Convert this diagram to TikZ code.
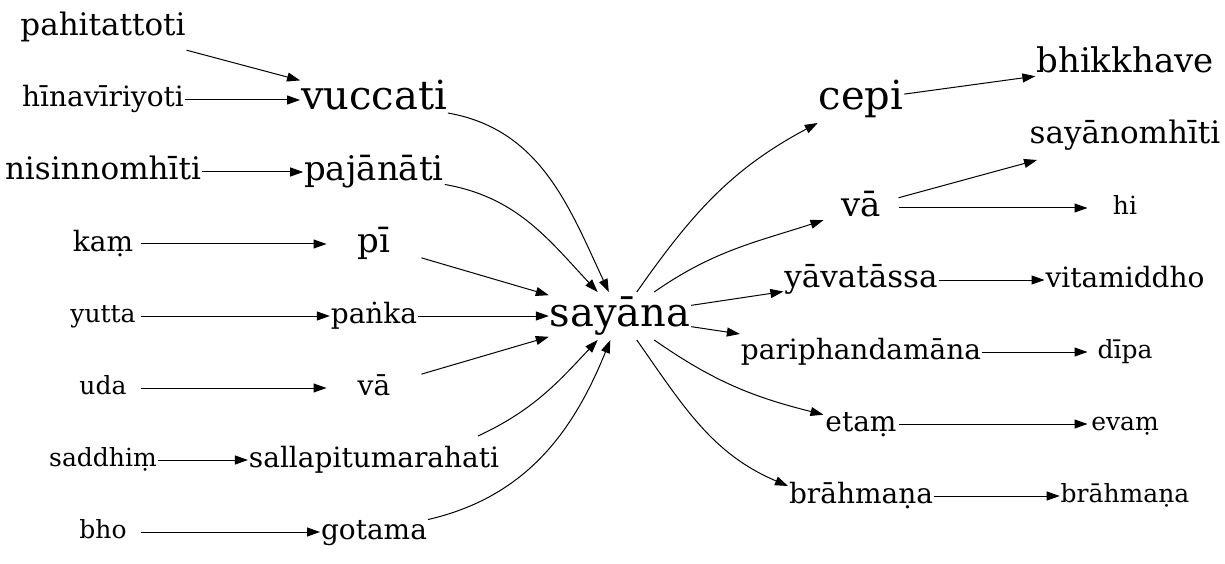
\documentclass[tikz,border=0pt]{standalone}
\usepackage{fontspec}
\IfFontExistsTF{DejaVuSerif.ttf}
  {\newfontfamily\pali{DejaVuSerif.ttf}}
  {\newfontfamily\pali{DejaVu Serif}}
\usepackage{tikz}
\usetikzlibrary{positioning,arrows.meta}

\begin{document}
\begin{tikzpicture}[x=1pt,y=1pt,node distance=72pt,
  >={Triangle[length=13pt,width=9pt]},
  line width=1pt,
  word/.style={minimum width=74pt,minimum height=47pt,inner xsep=0.5pt,inner ysep=0pt},
  fa/.style={word,font=\pali\fontsize{40}{48}\selectfont,text height=30pt,text depth=10pt},
  fb/.style={word,font=\pali\fontsize{34}{41}\selectfont,text height=25.5pt,text depth=8.5pt},
  fc/.style={word,font=\pali\fontsize{31}{37}\selectfont,text height=23.3pt,text depth=7.8pt},
  fd/.style={word,font=\pali\fontsize{28}{34}\selectfont,text height=21pt,text depth=7pt},
  fe/.style={word,font=\pali\fontsize{25}{30}\selectfont,text height=18.8pt,text depth=6.3pt}]
  \useasboundingbox (0,0) rectangle (1225,563);

  % centre
  \node[fa] (sayana) at (620,247) {sayāna};

  % middle column
  \node[fd] (panka) [left of=sayana,node distance=246pt] {paṅka};
  \node[fb,minimum width=94pt] (pi) [above of=panka] {pī};
  \node[fb] (pajanati) [above of=pi] {pajānāti};
  \node[fa] (vuccati) [above of=pajanati] {vuccati};
  \node[fd,minimum width=94pt] (vaL) [below of=panka] {vā};
  \node[fd] (sallapitum) [below of=vaL] {sallapitumarahati};
  \node[fd] (gotama) [below of=sallapitum] {gotama};

  % left column
  \node[fe] (yutta) [left of=panka,node distance=271pt] {yutta};
  \node[fd] (kam) [above of=yutta] {kaṃ};
  \node[fc] (nisinno) [above of=kam] {nisinnomhīti};
  \node[fd] (hina) [above of=nisinno] {hīnavīriyoti};
  \node[fc] (pahit) [above of=hina] {pahitattoti};
  \node[fe] (uda) [below of=yutta] {uda};
  \node[fe] (saddhim) [below of=uda] {saddhiṃ};
  \node[fe] (bho) [below of=saddhim] {bho};

  % right column
  \node[fc] (yavatassa) [right of=sayana,node distance=241pt,yshift=36pt] {yāvatāssa};
  \node[fb] (vaR) [above of=yavatassa] {vā};
  \node[fa] (cepi) [above of=vaR,node distance=108pt] {cepi};
  \node[fd] (pariphanda) [below of=yavatassa] {pariphandamāna};
  \node[fd] (etam) [below of=pariphanda] {etaṃ};
  \node[fd] (brahmanaA) [below of=etam] {brāhmaṇa};

  % far right column
  \node[fd] (vitamiddho) [right of=yavatassa,node distance=264pt] {vitamiddho};
  \node[fe] (hi) [above of=vitamiddho] {hi};
  \node[fc] (sayanomhiti) [above of=hi] {sayānomhīti};
  \node[fb] (bhikkhave) [above of=sayanomhiti] {bhikkhave};
  \node[fe] (dipa) [below of=vitamiddho] {dīpa};
  \node[fe] (evam) [below of=dipa] {evaṃ};
  \node[fe] (brahmanaB) [below of=evam] {brāhmaṇa};

  \path[->]
   (pahit) edge (vuccati)
   (hina) edge (vuccati)
   (nisinno) edge (pajanati)
   (kam) edge (pi)
   (yutta) edge (panka)
   (uda) edge (vaL)
   (saddhim) edge (sallapitum)
   (bho) edge (gotama)
   (vuccati) edge[out=-10,in=115] (sayana)
   (pajanati) edge[out=-10,in=133] (sayana)
   (pi) edge (sayana)
   (panka) edge (sayana)
   (vaL) edge (sayana)
   ([xshift=-22pt]sallapitum.north east) edge[out=25,in=-133] (sayana)
   (gotama) edge[out=13,in=-112] (sayana)
   (sayana) edge[out=55,in=208] (cepi)
   (sayana) edge[out=35,in=198] (vaR)
   (sayana) edge (yavatassa)
   (sayana) edge (pariphanda)
   (sayana) edge[out=-35,in=166] (etam)
   (sayana) edge[out=-55,in=157] ([yshift=10pt]brahmanaA.west)
   (cepi) edge (bhikkhave)
   (vaR) edge (sayanomhiti)
   (vaR) edge (hi)
   (yavatassa) edge (vitamiddho)
   (pariphanda) edge (dipa)
   (etam) edge (evam)
   (brahmanaA) edge (brahmanaB);
\end{tikzpicture}
\end{document}
